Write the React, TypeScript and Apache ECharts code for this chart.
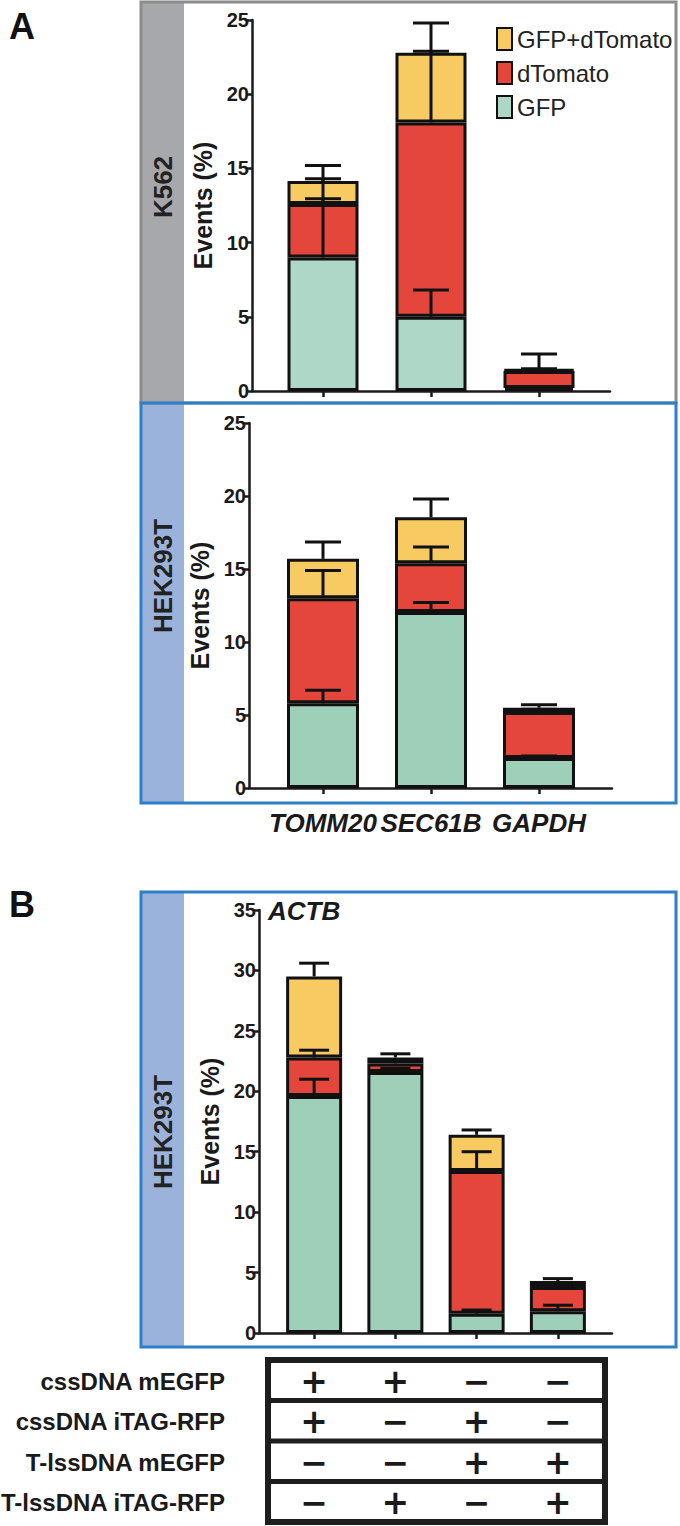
import React, { useEffect, useRef } from "react";
import * as echarts from "echarts";

// ---------- data ----------
const genesA = ["TOMM20", "SEC61B", "GAPDH"];
const actbConditions = ["1", "2", "3", "4"];
const seriesNames = ["GFP", "dTomato", "GFP+dTomato"];

// K562 (panel A, top)
const k562GFP = [9.0, 5.0, 0.2];
const k562DTomato = [3.6, 13.1, 1.15];
const k562Both = [1.55, 4.7, 0.1];
const k562GFPErr = [12.95, 6.8, 0.3];
const k562DTomatoErr = [14.3, 22.9, 1.5];
const k562BothErr = [15.2, 24.8, 2.5];

// HEK293T (panel A, bottom)
const hekGFP = [5.8, 12.05, 2.05];
const hekDTomato = [7.2, 3.35, 3.15];
const hekBoth = [2.7, 3.15, 0.3];
const hekGFPErr = [6.7, 12.7, 2.2];
const hekDTomatoErr = [14.9, 16.5, 5.4];
const hekBothErr = [16.85, 19.8, 5.7];

// HEK293T ACTB (panel B)
const actbGFP = [19.6, 21.6, 1.6, 1.8];
const actbDTomato = [3.2, 0.7, 11.8, 2.0];
const actbBoth = [6.7, 0.5, 3.0, 0.5];
const actbGFPErr = [21.0, 21.9, 1.9, 2.3];
const actbDTomatoErr = [23.4, 22.6, 15.0, 4.0];
const actbBothErr = [30.6, 23.1, 16.8, 4.5];

const ticksA = [0, 5, 10, 15, 20, 25];
const ticksB = [0, 5, 10, 15, 20, 25, 30, 35];

const tableRows = ["cssDNA mEGFP", "cssDNA iTAG-RFP", "T-lssDNA mEGFP", "T-lssDNA iTAG-RFP"];
const tableSigns = [
  ["+", "+", "−", "−"],
  ["+", "−", "+", "−"],
  ["−", "−", "+", "+"],
  ["−", "+", "−", "+"],
];

// ---------- styles ----------
const FONT = "'Liberation Sans', Arial, Helvetica, sans-serif";
const SIGN_FONT = "'DejaVu Sans', 'Liberation Sans', sans-serif";
const INK = "#1a1a1a";
const GFP_TOP = "#aed7c7";
const GFP_HEK = "#9dcfb9";
const RED = "#e4463c";
const YELLOW = "#f7cb62";
const GREY_BORDER = "#8c8c8c";
const GREY_STRIPE = "#a7a8ab";
const BLUE_BORDER = "#2c7fc8";
const BLUE_STRIPE = "#9bb3da";

type G = { left: number; top: number; width: number; height: number };

export default function App() {
  const ref = useRef<HTMLDivElement>(null);

  useEffect(() => {
    if (!ref.current) return;
    const chart = echarts.init(ref.current, undefined, { renderer: "svg" });

    const gA0: G = { left: 252, top: 20, width: 358, height: 371 };
    const gA1: G = { left: 269, top: 20, width: 324, height: 371 };
    const gB0: G = { left: 249, top: 423, width: 363, height: 365 };
    const gB1: G = { left: 269, top: 423, width: 324, height: 365 };
    const gC0: G = { left: 259, top: 910, width: 353, height: 423 };
    const gC1: G = { left: 273.5, top: 910, width: 325, height: 423 };
    const grids = [gA0, gA1, gB0, gB1, gC0, gC1];

    const axisLineStyle = { color: INK, width: 2.5 };

    const frameX = (gi: number) => ({
      type: "value",
      gridIndex: gi,
      min: 0,
      max: 1,
      axisLine: { show: true, onZero: false, lineStyle: axisLineStyle },
      axisTick: { show: false },
      axisLabel: { show: false },
      splitLine: { show: false },
    });
    const frameY = (gi: number, ticks: number[]) => ({
      type: "value",
      gridIndex: gi,
      min: ticks[0],
      max: ticks[ticks.length - 1],
      interval: ticks[1] - ticks[0],
      axisLine: { show: true, onZero: false, lineStyle: axisLineStyle },
      axisTick: { show: true, length: 5, lineStyle: { color: INK, width: 2.5 } },
      axisLabel: { show: true, fontSize: 20, fontWeight: "bold", color: INK, fontFamily: FONT, margin: 3 },
      splitLine: { show: false },
      name: "Events (%)",
      nameLocation: "middle",
      nameRotate: 90,
      nameGap: 36,
      nameTextStyle: { fontSize: 25, fontWeight: "bold", color: INK, fontFamily: FONT },
    });
    const barX = (gi: number, cats: string[], showLabels: boolean) => ({
      type: "category",
      gridIndex: gi,
      data: cats,
      axisLine: { show: false },
      axisTick: { show: true, alignWithLabel: true, length: 6, lineStyle: { color: INK, width: 2.5 } },
      axisLabel: {
        show: showLabels,
        interval: 0,
        fontSize: 26,
        fontWeight: "bold",
        fontStyle: "italic",
        color: INK,
        fontFamily: FONT,
        margin: 22,
      },
      splitLine: { show: false },
    });
    const barY = (gi: number, ticks: number[]) => ({
      type: "value",
      gridIndex: gi,
      min: ticks[0],
      max: ticks[ticks.length - 1],
      show: false,
    });

    const makeBars = (
      stack: string,
      gi: number,
      gfpColor: string,
      values: number[][],
      barWidth: number
    ) =>
      values.map((vals, k) => ({
        type: "bar",
        name: seriesNames[k],
        stack,
        xAxisIndex: gi,
        yAxisIndex: gi,
        data: vals,
        barWidth,
        itemStyle: {
          color: [gfpColor, RED, YELLOW][k],
          borderColor: "#111",
          borderWidth: 3,
        },
        z: 2,
      }));

    const makeErr = (gi: number, values: number[][], errs: number[][], capW: number) => {
      const data: number[][] = [];
      const n = values[0].length;
      for (let i = 0; i < n; i++) {
        let base = 0;
        for (let k = 0; k < values.length; k++) {
          base += values[k][i];
          if (errs[k][i] > base) data.push([i, base, errs[k][i]]);
        }
      }
      return {
        type: "custom",
        xAxisIndex: gi,
        yAxisIndex: gi,
        z: 5,
        silent: true,
        encode: { x: 0, y: [1, 2] },
        data,
        renderItem: (_params: any, api: any) => {
          const i = api.value(0);
          const lo = api.coord([i, api.value(1)]);
          const hi = api.coord([i, api.value(2)]);
          const h = capW / 2;
          const st = { stroke: "#111", lineWidth: 3 };
          return {
            type: "group",
            children: [
              { type: "line", shape: { x1: lo[0], y1: lo[1], x2: hi[0], y2: hi[1] }, style: st },
              { type: "line", shape: { x1: hi[0] - h, y1: hi[1], x2: hi[0] + h, y2: hi[1] }, style: st },
            ],
          };
        },
      };
    };

    const kVals = [k562GFP, k562DTomato, k562Both];
    const kErrs = [k562GFPErr, k562DTomatoErr, k562BothErr];
    const hVals = [hekGFP, hekDTomato, hekBoth];
    const hErrs = [hekGFPErr, hekDTomatoErr, hekBothErr];
    const aVals = [actbGFP, actbDTomato, actbBoth];
    const aErrs = [actbGFPErr, actbDTomatoErr, actbBothErr];

    // table geometry (derived from panel B category band)
    const band = gC1.width / actbConditions.length;
    const colX = actbConditions.map((_, i) => gC1.left + (i + 0.5) * band);
    const tTop = 1360;
    const tBottom = 1522;
    const tLeft = 268;
    const tRight = 605;
    const rowH = (tBottom - tTop) / tableRows.length;
    const rowY = tableRows.map((_, r) => tTop + (r + 0.5) * rowH + 1);
    const sepY = [1, 2, 3].map((r) => tTop + r * rowH);

    const graphics: any[] = [
      // labels A / B
      { type: "text", left: 9, top: 8, style: { text: "A", font: `bold 36px ${FONT}`, fill: "#111" } },
      { type: "text", left: 9, top: 886, style: { text: "B", font: `bold 36px ${FONT}`, fill: "#111" } },
      // stripes
      { type: "rect", shape: { x: 141, y: 2, width: 43, height: 401 }, style: { fill: GREY_STRIPE }, z: 0 },
      { type: "rect", shape: { x: 141, y: 403, width: 43, height: 400 }, style: { fill: BLUE_STRIPE }, z: 0 },
      { type: "rect", shape: { x: 141, y: 892, width: 43, height: 455 }, style: { fill: BLUE_STRIPE }, z: 0 },
      // borders
      { type: "rect", shape: { x: 141, y: 2, width: 535, height: 401 }, style: { fill: "none", stroke: GREY_BORDER, lineWidth: 3 }, z: 1 },
      { type: "rect", shape: { x: 141, y: 403, width: 535, height: 400 }, style: { fill: "none", stroke: BLUE_BORDER, lineWidth: 3 }, z: 1 },
      { type: "rect", shape: { x: 141, y: 892, width: 535, height: 455 }, style: { fill: "none", stroke: BLUE_BORDER, lineWidth: 3 }, z: 1 },
      // row labels in stripes
      {
        type: "text", x: 163, y: 187, rotation: Math.PI / 2,
        style: { text: "K562", font: `bold 26px ${FONT}`, fill: "#222", align: "center", verticalAlign: "middle" },
      },
      {
        type: "text", x: 163, y: 576, rotation: Math.PI / 2,
        style: { text: "HEK293T", font: `bold 26px ${FONT}`, fill: "#222", align: "center", verticalAlign: "middle" },
      },
      {
        type: "text", x: 163, y: 1132, rotation: Math.PI / 2,
        style: { text: "HEK293T", font: `bold 26px ${FONT}`, fill: "#222", align: "center", verticalAlign: "middle" },
      },
      // ACTB
      {
        type: "text", x: 268, y: 911,
        style: { text: "ACTB", font: `italic bold 26px ${FONT}`, fill: INK, align: "left", verticalAlign: "middle" },
      },
      // table box
      {
        type: "rect", shape: { x: tLeft, y: tTop, width: tRight - tLeft, height: tBottom - tTop },
        style: { fill: "#fff", stroke: "#1e1e1e", lineWidth: 6 },
      },
      ...sepY.map((y) => ({
        type: "line", shape: { x1: tLeft, y1: y, x2: tRight, y2: y },
        style: { stroke: "#1e1e1e", lineWidth: 5 },
      })),
      ...tableRows.map((label, r) => ({
        type: "text", x: 225, y: rowY[r],
        style: { text: label, font: `bold 24px ${FONT}`, fill: INK, align: "right", verticalAlign: "middle" },
      })),
    ];
    tableSigns.forEach((row, r) =>
      row.forEach((s, c) =>
        graphics.push({
          type: "text", x: colX[c], y: rowY[r],
          style: { text: s, font: `bold 33px ${SIGN_FONT}`, fill: INK, align: "center", verticalAlign: "middle" },
        })
      )
    );

    chart.setOption({
      animation: false,
      backgroundColor: "#fff",
      textStyle: { fontFamily: FONT },
      grid: grids.map((g) => ({ ...g, containLabel: false })),
      xAxis: [
        frameX(0),
        barX(1, genesA, false),
        frameX(2),
        barX(3, genesA, true),
        frameX(4),
        barX(5, actbConditions, false),
      ],
      yAxis: [
        frameY(0, ticksA),
        barY(1, ticksA),
        frameY(2, ticksA),
        barY(3, ticksA),
        frameY(4, ticksB),
        barY(5, ticksB),
      ],
      legend: {
        data: ["GFP+dTomato", "dTomato", "GFP"],
        orient: "vertical",
        left: 491,
        top: 22,
        itemWidth: 15,
        itemHeight: 22,
        itemGap: 10,
        icon: "rect",
        selectedMode: false,
        textStyle: { fontSize: 24, color: "#222", fontFamily: FONT },
      },
      series: [
        ...makeBars("k562", 1, GFP_TOP, kVals, 71),
        makeErr(1, kVals, kErrs, 36),
        ...makeBars("hek", 3, GFP_HEK, hVals, 72),
        makeErr(3, hVals, hErrs, 36),
        ...makeBars("actb", 5, GFP_HEK, aVals, 56),
        makeErr(5, aVals, aErrs, 30),
      ],
      graphic: graphics,
    });

    return () => chart.dispose();
  }, []);

  return (
    <div
      ref={ref}
      style={{ position: "absolute", left: 0, top: 0, width: 680, height: 1526, background: "#fff" }}
    />
  );
}
